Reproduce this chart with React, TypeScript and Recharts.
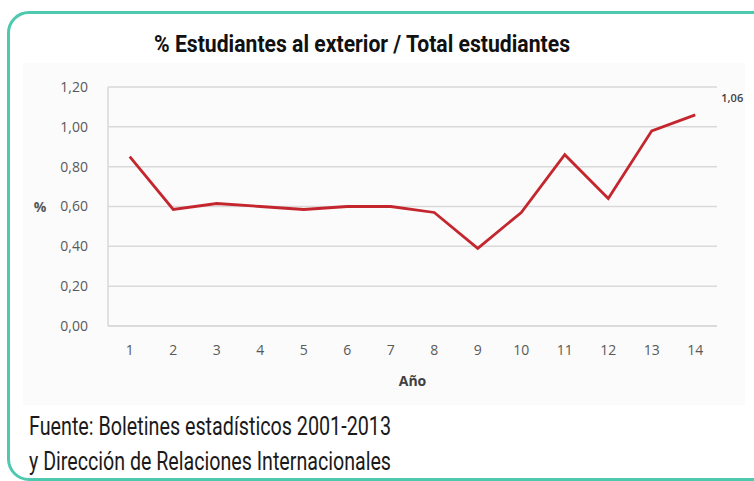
import React from "react";
import { LineChart, Line, XAxis, YAxis, CartesianGrid, LabelList } from "recharts";

const years = ["1", "2", "3", "4", "5", "6", "7", "8", "9", "10", "11", "12", "13", "14"];
const pctValues = [0.85, 0.585, 0.615, 0.6, 0.585, 0.6, 0.6, 0.57, 0.39, 0.57, 0.86, 0.64, 0.98, 1.06];
const yTicks = [0, 0.2, 0.4, 0.6, 0.8, 1.0, 1.2];

const titleText = "% Estudiantes al exterior / Total estudiantes";
const sourceLines = ["Fuente: Boletines estadísticos 2001-2013", "y Dirección de Relaciones Internacionales"];

const data = years.map((y, i) => ({ year: y, value: pctValues[i] }));

const fmt = (v: number) => v.toFixed(2).replace(".", ",");

const titleFont = "Roboto, 'Liberation Sans', sans-serif";
const axisFont = "'Open Sans', 'DejaVu Sans', sans-serif";

const LastLabel = (props: any) => {
  const { x, y, index, value } = props;
  if (index !== pctValues.length - 1) return null;
  return (
    <text x={x + 37} y={y - 13} fill="#404040" fontSize={11} fontWeight={600} fontFamily={axisFont} textAnchor="middle">
      {fmt(value)}
    </text>
  );
};

export default function App() {
  return (
    <div style={{ position: "absolute", left: 0, top: 0, width: 754, height: 481, background: "#ffffff", overflow: "hidden" }}>
      <div
        style={{
          position: "absolute",
          left: 7,
          top: 11,
          width: 780,
          height: 470,
          border: "3px solid #4fc8b0",
          borderRadius: 22,
          boxSizing: "border-box",
        }}
      />
      <div style={{ position: "absolute", left: 23, top: 63, width: 722, height: 342, background: "#fbfbfb" }} />
      <div style={{ position: "absolute", left: 0, top: 0 }}>
        <LineChart width={754} height={481} data={data} margin={{ top: 87, right: 37, bottom: 95, left: 48 }}>
          <CartesianGrid vertical={false} stroke="#d9d9d9" strokeWidth={1.5} />
          <XAxis
            dataKey="year"
            padding={{ left: 21.75, right: 21.75 }}
            axisLine={{ stroke: "#d9d9d9", strokeWidth: 1.5 }}
            tickLine={false}
            tickSize={0}
            tickMargin={19}
            tick={{ fill: "#595959", fontSize: 14, fontFamily: axisFont }}
            height={60}
            label={{ value: "Año", position: "insideBottom", offset: 0, fill: "#404040", fontSize: 14, fontWeight: 700, fontFamily: axisFont }}
          />
          <YAxis
            domain={[0, 1.2]}
            ticks={yTicks}
            tickFormatter={fmt}
            axisLine={{ stroke: "#d9d9d9", strokeWidth: 1.5 }}
            tickLine={false}
            tickSize={0}
            tickMargin={20}
            width={60}
            tick={{ fill: "#595959", fontSize: 14, fontFamily: axisFont }}
          />
          <Line
            type="linear"
            dataKey="value"
            stroke="#c4262e"
            strokeWidth={2.8}
            dot={false}
            activeDot={false}
            isAnimationActive={false}
          >
            <LabelList dataKey="value" content={<LastLabel />} />
          </Line>
        </LineChart>
      </div>
      <svg width={754} height={481} style={{ position: "absolute", left: 0, top: 0, pointerEvents: "none" }}>
        <text
          x={154}
          y={52}
          fontFamily={titleFont}
          fontWeight={700}
          fontSize={23}
          fill="#111111"
          textLength={416}
          lengthAdjust="spacingAndGlyphs"
        >
          {titleText}
        </text>
        <text x={40} y={212} fontFamily={axisFont} fontWeight={700} fontSize={14} fill="#595959" textAnchor="middle">
          %
        </text>
        {sourceLines.map((l, i) => (
          <text
            key={l}
            x={29}
            y={435 + i * 35}
            fontFamily={titleFont}
            fontWeight={400}
            fontSize={25}
            fill="#1a1a1a"
            textLength={362}
            lengthAdjust="spacingAndGlyphs"
          >
            {l}
          </text>
        ))}
      </svg>
    </div>
  );
}
